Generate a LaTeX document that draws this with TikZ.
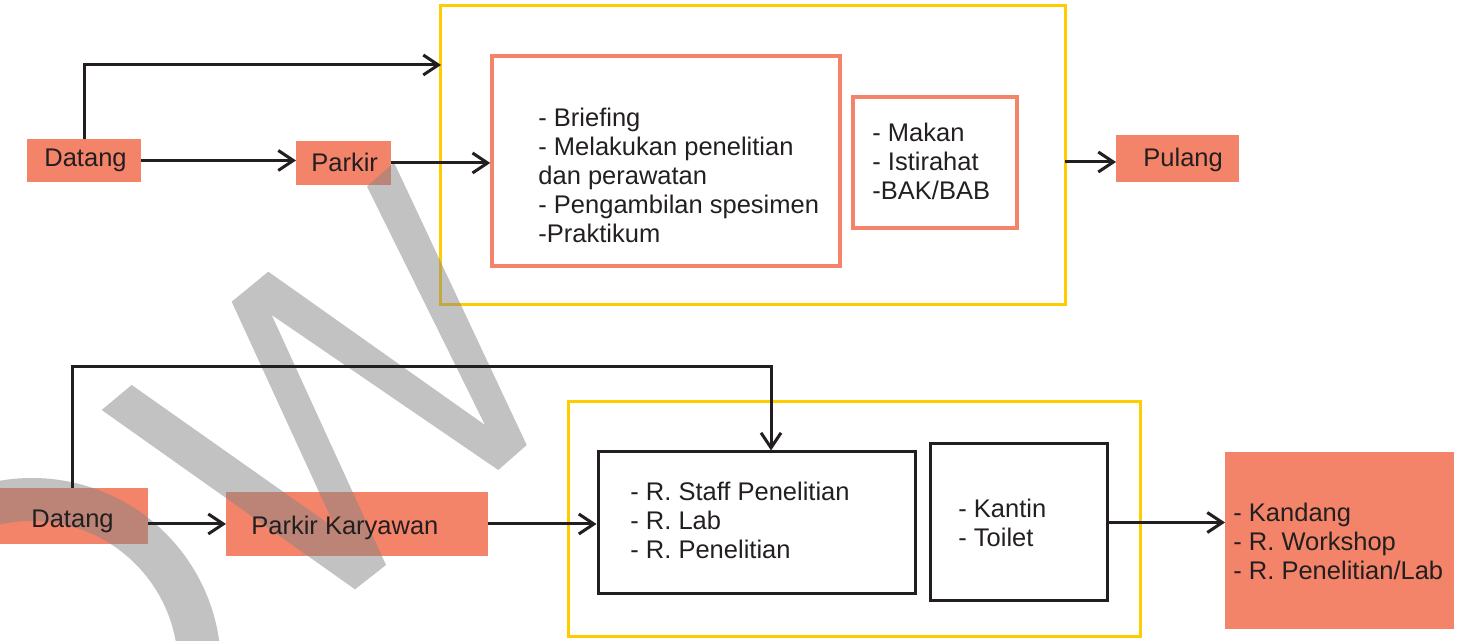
\documentclass[tikz,border=0pt]{standalone}
\usepackage{fontspec}
\setmainfont{Liberation Sans}
\usetikzlibrary{arrows.meta}

\definecolor{boxorange}{RGB}{243,131,105}
\definecolor{frameyellow}{RGB}{255,204,0}
\definecolor{ink}{RGB}{35,31,32}
\definecolor{wmgrey}{RGB}{133,133,133}

% left-aligned block of lines whose base is the first line
\newcommand\linesleft[1]{\begin{tabular}[t]{@{}l@{}}#1\end{tabular}}

\tikzset{
  sz/.style 2 args={minimum width=#1*0.5pt,minimum height=#2*0.5pt},
  fillbox/.style={rectangle,fill=boxorange,inner sep=0pt,outer sep=0pt},
  orangeframe/.style={rectangle,draw=boxorange,line width=1.75pt,inner sep=0pt},
  blackframe/.style={rectangle,draw=ink,line width=1.5pt,inner sep=0pt},
  yellowframe/.style={rectangle,draw=frameyellow,line width=1.5pt,inner sep=0pt},
  txt/.style={inner sep=0pt,anchor=base west},
  flow/.style={draw=ink,line width=1.5pt,-{Straight Barb[length=7.5pt,width=10pt]}},
}

\begin{document}
\begin{tikzpicture}[x=0.5pt,y=-0.5pt,
  font=\fontsize{12.75pt}{14.4pt}\selectfont, text=ink]
\useasboundingbox (0,0) rectangle (1458,641);

% ---------- upper flow: boxes and frames ----------
\node[yellowframe,sz={625}{299}] (yelA) at (752.5,155.5) {};
\node[orangeframe,sz={348}{210}] (boxA) at (666,161) {};
\node[orangeframe,sz={164}{131}] (boxB) at (935,162.5) {};
\node[fillbox,sz={114}{43}] (datA) at (84,160.5) {};
\node[fillbox,sz={95}{44}] (parA) at (343.5,163) {};
\node[fillbox,sz={123}{47}] (pul) at (1177.5,158.5) {};

% ---------- lower flow: boxes and frames ----------
\node[yellowframe,sz={572}{235}] (yelB) at (854,519.5) {};
\node[blackframe,sz={317}{142}] (boxC) at (756.5,523) {};
\node[blackframe,sz={177}{157}] (boxD) at (1018.5,522.5) {};
\node[fillbox,sz={229}{177}] (big) at (1339.5,540.5) {};
\node[fillbox,sz={152}{56}] (datB) at (72,516) {};
\node[fillbox,sz={262}{64}] (pk) at (357,524) {};

% ---------- watermark ----------
\begin{scope}
  \clip (0,0) rectangle (1458,641);
  \fill[wmgrey,fill opacity=0.5]
    (101.7,410) -- (355,589.3) -- (386,565) -- (271.7,315) -- (498.3,470)
    -- (526.7,445) -- (394,162.5) -- (367,186.5) -- (485,425)
    -- (268.3,271.7) -- (231.7,301.7) -- (336,529) -- (131.7,385) -- cycle;
  \draw[wmgrey,draw opacity=0.5,line width=21.5pt] (32,667) circle[radius=167.5];
\end{scope}

% ---------- connectors ----------
\coordinate (inA) at (441,65);
\coordinate (outA) at (1065,162);
\coordinate (bendB) at (771,367);

\draw[flow] (datA.north) |- (inA);
\draw[flow] (datA.east) -- (datA.east -| parA.west);
\draw[flow] (parA.east) -- (parA.east -| boxA.west);
\draw[flow] (outA) -- (outA -| pul.west);

\draw[flow] (datB.north) |- (bendB) -- (bendB |- boxC.north);
\draw[flow] (datB.east |- pk.west) -- (pk.west);
\draw[flow] (pk.east) -- (pk.east -| boxC.west);
\draw[flow] (boxD.east) -- (boxD.east -| big.west);

% ---------- texts ----------
\node[txt] (tDatA) at (44,166.5) {Datang};
\node[txt] (tParA) at (311,171.5) {Parkir};
\node[txt] (tPul) at (1143,167) {Pulang};
\node[txt] (tA) at (538,127) {\linesleft{- Briefing\\- Melakukan penelitian\\dan perawatan\\- Pengambilan spesimen\\-Praktikum}};
\node[txt] (tB) at (872,142) {\linesleft{- Makan\\- Istirahat\\-BAK/BAB}};

\node[txt] (tDatB) at (31,528) {Datang};
\node[txt] (tPK) at (251,535) {Parkir Karyawan};
\node[txt] (tC) at (630,501) {\linesleft{- R. Staff Penelitian\\- R. Lab\\- R. Penelitian}};
\node[txt] (tD) at (958,518) {\linesleft{- Kantin\\- Toilet}};
\node[txt] (tBig) at (1233,521.5) {\linesleft{- Kandang\\- R. Workshop\\- R. Penelitian/Lab}};
\end{tikzpicture}
\end{document}
